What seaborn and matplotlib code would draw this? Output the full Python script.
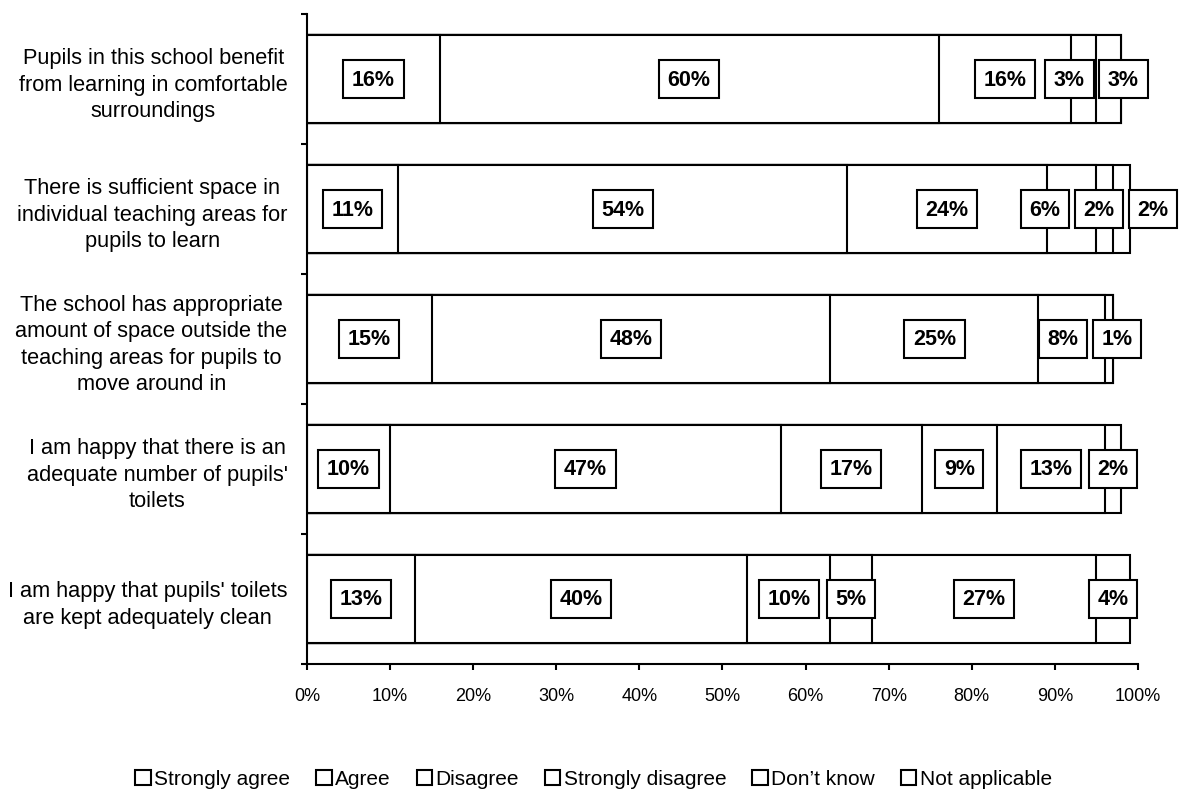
import numpy as np
import pandas as pd
import seaborn as sns
import matplotlib.pyplot as plt
from matplotlib.patches import Patch

questions = [
    "Pupils in this school benefit\nfrom learning in comfortable\nsurroundings",
    "There is sufficient space in\nindividual teaching areas for\npupils to learn",
    "The school has appropriate\namount of space outside the\nteaching areas for pupils to\nmove around in",
    "I am happy that there is an\nadequate number of pupils'\ntoilets",
    "I am happy that pupils' toilets\nare kept adequately clean",
]
responses = ["Strongly agree", "Agree", "Disagree", "Strongly disagree",
             "Don\u2019t know", "Not applicable"]

strongly_agree = [16, 11, 15, 10, 13]
agree = [60, 54, 48, 47, 40]
disagree = [16, 24, 25, 17, 10]
strongly_disagree = [3, 6, 8, 9, 5]
dont_know = [3, 2, 1, 13, 27]
not_applicable = [0, 2, 0, 2, 4]

values = np.array([strongly_agree, agree, disagree, strongly_disagree,
                   dont_know, not_applicable]).T
cum = np.cumsum(values, axis=1)

sns.set_style("ticks")
plt.rcParams["font.family"] = ["Liberation Sans", "DejaVu Sans"]
for k in ["text.color", "axes.labelcolor", "xtick.color", "ytick.color",
          "axes.edgecolor"]:
    plt.rcParams[k] = "black"

fig, ax = plt.subplots(figsize=(11.87, 8.03), dpi=100)
fig.subplots_adjust(left=0.2586, right=0.9587, top=0.9813, bottom=0.1719)

# stacked bars: draw cumulative totals, widest first
for j in reversed(range(len(responses))):
    df = pd.DataFrame({"question": questions, "cum": cum[:, j]})
    sns.barplot(data=df, x="cum", y="question", orient="h", color="white",
                saturation=1, edgecolor="black", linewidth=1.5, width=0.67,
                errorbar=None, ax=ax)


def spread(xs, gap=6.5):
    xs = list(xs)
    for _ in range(100):
        moved = False
        for i in range(len(xs) - 1):
            d = xs[i + 1] - xs[i]
            if d < gap - 1e-9:
                s = (gap - d) / 2
                xs[i] -= s
                xs[i + 1] += s
                moved = True
        if not moved:
            break
    return xs


for i in range(len(questions)):
    starts = cum[i] - values[i]
    idx = [j for j in range(len(responses)) if values[i, j] > 0]
    centers = [starts[j] + values[i, j] / 2 for j in idx]
    pos = spread(centers)
    for j, x in zip(idx, pos):
        ax.text(x, i, f"{values[i, j]}%", ha="center", va="center",
                fontsize=15.5, fontweight="bold", zorder=10, clip_on=False,
                bbox=dict(boxstyle="square,pad=0.4", facecolor="white",
                          edgecolor="black", linewidth=1.5))

ax.set_xlim(0, 100)
ax.set_ylim(len(questions) - 0.5, -0.5)
ax.set_xticks(np.arange(0, 101, 10))
ax.set_xticklabels([f"{v}%" for v in range(0, 101, 10)], fontsize=13)
ax.set_yticks(np.arange(-0.5, len(questions)), labels=[""] * (len(questions) + 1))
ax.set_yticks(range(len(questions)), labels=questions, minor=True)
for lab in ax.get_yticklabels(minor=True):
    lab.set_multialignment("center")
    lab.set_fontsize(15.7)
    lab.set_linespacing(1.32)
ax.tick_params(axis="y", which="minor", length=0, pad=14)
ax.tick_params(axis="both", which="major", direction="out", length=4.5,
               width=1.5, color="black")
ax.tick_params(axis="x", pad=12)
ax.set_xlabel("")
ax.set_ylabel("")
sns.despine(ax=ax)
for sp in ["left", "bottom"]:
    ax.spines[sp].set_linewidth(1.5)
    ax.spines[sp].set_color("black")

handles = [Patch(facecolor="white", edgecolor="black", linewidth=1.5, label=r)
           for r in responses]
fig.legend(handles=handles, loc="center", bbox_to_anchor=(0.5, 1 - 780 / 803),
           ncol=6, frameon=False, fontsize=15, handlelength=0.75,
           handleheight=0.75, handletextpad=0.15, columnspacing=1.25)

plt.savefig("out.png", dpi=100)
